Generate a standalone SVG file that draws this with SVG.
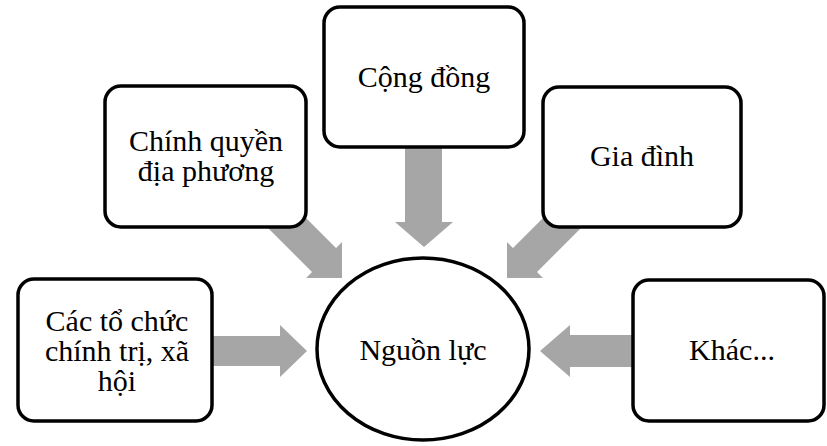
<svg xmlns="http://www.w3.org/2000/svg" width="827" height="446" viewBox="0 0 827 446">
  <style>
    .box { fill: #ffffff; stroke: #000000; stroke-width: 3.5; }
    .hub { fill: #ffffff; stroke: #000000; stroke-width: 3.5; }
    .flow { fill: #a6a6a6; stroke: none; }
    text { font-family: 'Liberation Serif', 'Times New Roman', serif; font-size: 30px; fill: #000000; text-anchor: middle; }
  </style>
  <rect x="0" y="0" width="827" height="446" fill="#ffffff"/>

  <!-- block arrows pointing into the central node -->
  <g id="connectors">
    <!-- from Cộng đồng, downward -->
    <polygon class="flow" points="405,140 442,140 442,222 453,222 424,247 395,222 405,222"/>
    <!-- from Chính quyền địa phương, diagonal down-right -->
    <polygon class="flow" points="279,191 336,248 342,242 342,278 306,278 312,272 255,215"/>
    <!-- from Gia đình, diagonal down-left -->
    <polygon class="flow" points="570,191 513,248 507,242 507,278 543,278 537,272 594,215"/>
    <!-- from Các tổ chức chính trị, xã hội, rightward -->
    <polygon class="flow" points="210,336 280,336 280,325 307,351 280,377 280,366 210,366"/>
    <!-- from Khác..., leftward -->
    <polygon class="flow" points="640,335 570,335 570,325 540,351 570,377 570,367 640,367"/>
  </g>

  <g id="node-cong-dong">
    <rect class="box" x="324" y="7" width="200" height="140" rx="16"/>
    <text x="424" y="87">Cộng đồng</text>
  </g>

  <g id="node-chinh-quyen">
    <rect class="box" x="105" y="86" width="201" height="141" rx="16"/>
    <text x="206" y="151">Chính quyền</text>
    <text x="206" y="181">địa phương</text>
  </g>

  <g id="node-gia-dinh">
    <rect class="box" x="543" y="87" width="198" height="140" rx="16"/>
    <text x="642" y="166">Gia đình</text>
  </g>

  <g id="node-to-chuc">
    <rect class="box" x="18" y="279" width="194" height="142" rx="16"/>
    <text x="117" y="331">Các tổ chức</text>
    <text x="117" y="361">chính trị, xã</text>
    <text x="117" y="391">hội</text>
  </g>

  <g id="node-khac">
    <rect class="box" x="633" y="280" width="191" height="141" rx="16"/>
    <text x="732" y="360">Khác...</text>
  </g>

  <g id="node-nguon-luc">
    <ellipse class="hub" cx="423" cy="349" rx="106" ry="91"/>
    <text x="423" y="360">Nguồn lực</text>
  </g>
</svg>
